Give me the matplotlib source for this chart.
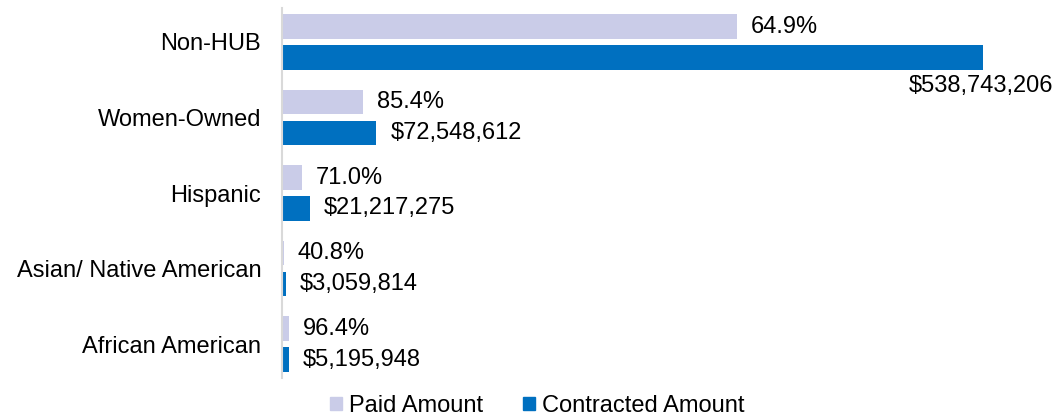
import matplotlib
matplotlib.use("Agg")
from matplotlib import pyplot as plt
from matplotlib.patches import Patch

plt.rcParams['font.family'] = ['Liberation Sans', 'DejaVu Sans']

# data
categories = ['Non-HUB', 'Women-Owned', 'Hispanic', 'Asian/ Native American', 'African American']
contracted = [538743206, 72548612, 21217275, 3059814, 5195948]
paid_pct = [64.9, 85.4, 71.0, 40.8, 96.4]
paid = [349644341, 61956515, 15064265, 1248404, 5008894]

paid_color = '#CACCE8'
contracted_color = '#0070C0'
fs = 17

fig = plt.figure(figsize=(10.57, 4.17), dpi=100)
ax = fig.add_axes([282 / 1057, 1 - 378 / 417, (983 - 282) / 1057, 370 / 417])

ypos = list(range(len(categories)))
h = 0.33
off = 0.205
ax.barh([y - off for y in ypos], paid, height=h, color=paid_color)
ax.barh([y + off for y in ypos], contracted, height=h, color=contracted_color)

ax.set_xlim(0, contracted[0])
ax.set_ylim(4.45, -0.45)
ax.set_yticks(ypos)
ax.set_yticklabels(categories, fontsize=fs)
ax.tick_params(axis='y', length=0, pad=15)
ax.set_xticks([])
for s in ['top', 'right', 'bottom']:
    ax.spines[s].set_visible(False)
ax.spines['left'].set_color('#D9D9D9')
ax.spines['left'].set_linewidth(1.5)

# value labels
for y, p, pct in zip(ypos, paid, paid_pct):
    ax.annotate('%.1f%%' % pct, (p, y - off), xytext=(14, 0), textcoords='offset pixels',
                ha='left', va='center', fontsize=fs, annotation_clip=False)
for i, (y, c) in enumerate(zip(ypos, contracted)):
    if i == 0:
        ax.annotate('${:,}'.format(c), (c, y + off), xytext=(70, -29), textcoords='offset pixels',
                    ha='right', va='center', fontsize=fs, annotation_clip=False)
    else:
        ax.annotate('${:,}'.format(c), (c, y + off), xytext=(14, 0), textcoords='offset pixels',
                    ha='left', va='center', fontsize=fs, annotation_clip=False)

handles = [Patch(color=paid_color, label='Paid Amount'),
           Patch(color=contracted_color, label='Contracted Amount')]
fig.legend(handles=handles, loc='center', bbox_to_anchor=(537 / 1057, 11 / 417), ncol=2,
           frameon=False, fontsize=fs, handlelength=0.5, handleheight=0.5,
           handletextpad=0.3, columnspacing=1.7, borderaxespad=0, borderpad=0)

fig.savefig('out.png', dpi=100)
